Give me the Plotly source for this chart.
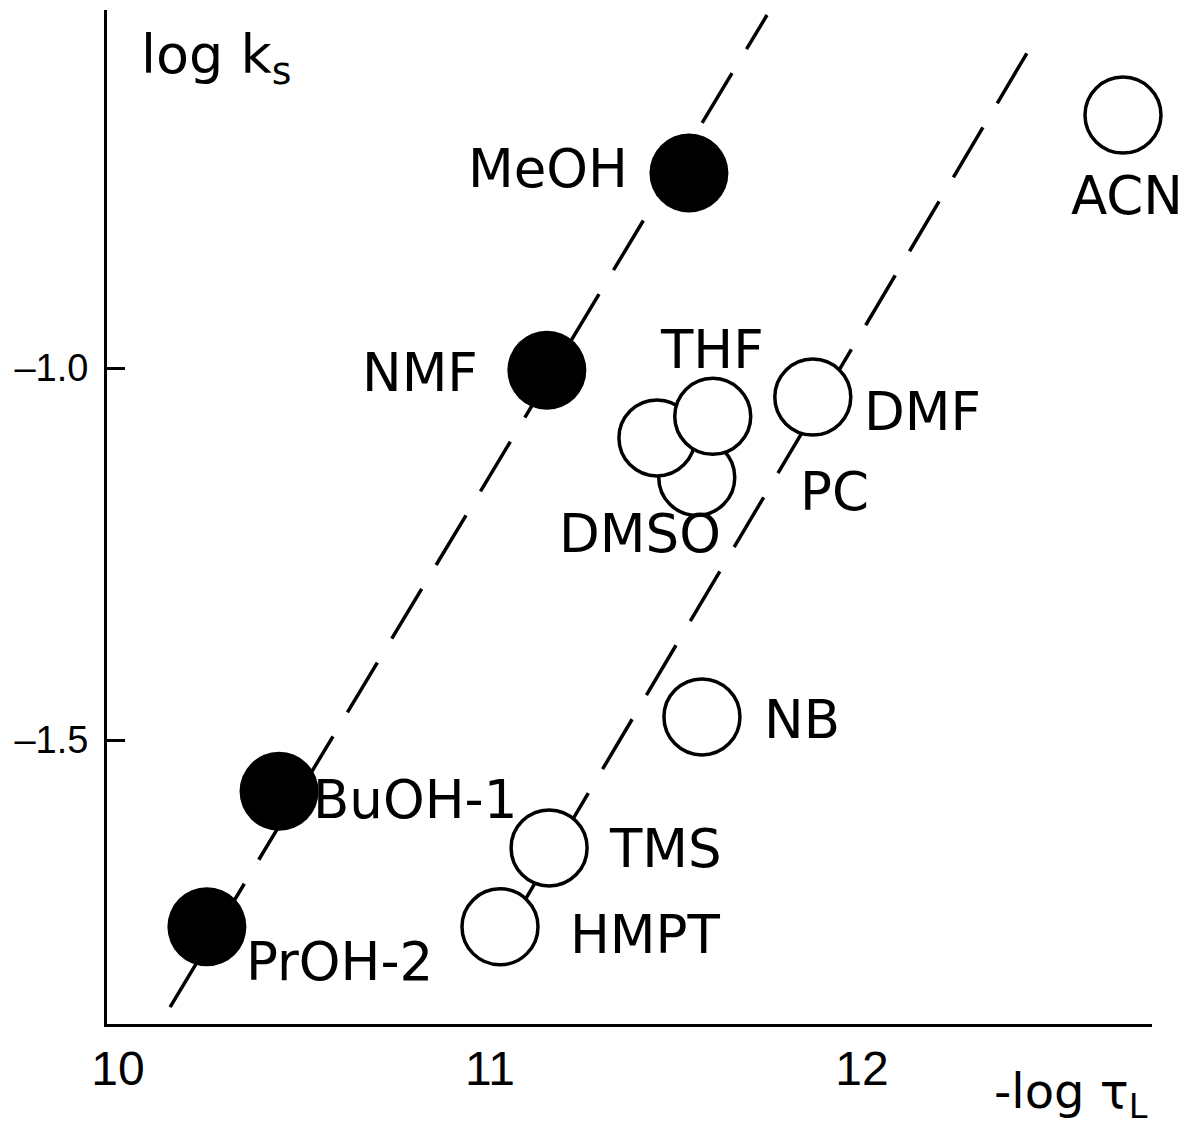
import plotly.graph_objects as go

# ---- data ----
filled_names = ["MeOH", "NMF", "BuOH-1", "PrOH-2"]
filled_x = [11.535, 11.153, 10.433, 10.239]
filled_y = [-0.738, -1.003, -1.569, -1.751]

open_names = ["ACN", "DMF", "NB", "TMS", "HMPT", "DMSO", "PC", "THF"]
open_x = [12.702, 11.868, 11.570, 11.159, 11.027, 11.556, 11.449, 11.599]
open_y = [-0.660, -1.039, -1.469, -1.645, -1.751, -1.147, -1.094, -1.065]

line1_x = [10.140, 11.745]
line1_y = [-1.859, -0.5255]
line2_x = [11.067, 12.444]
line2_y = [-1.738, -0.5766]

xtick_vals = [10, 11, 12]
xtick_text = ["10", "11", "12"]
xtick_marks = [11, 12]
ytick_vals = [-1.0, -1.5]
ytick_text = ["\u20131.0", "\u20131.5"]

# ---- label offsets (pixels, layout only) ----
label_offsets = {
    "MeOH": (-141, 5), "NMF": (-127, -2), "BuOH-1": (136, -8), "PrOH-2": (133, -35),
    "ACN": (4, -80), "THF": (-1, 67), "DMF": (110, -14), "PC": (178, -54),
    "DMSO": (-57, -56), "NB": (100, -3), "TMS": (116, -1), "HMPT": (146, -8),
}

FONT = "DejaVu Sans"
TICKFONT = "Liberation Sans"

fig = go.Figure()

dash = "58px,28px"
for lx, ly in [(line1_x, line1_y), (line2_x, line2_y)]:
    fig.add_trace(go.Scatter(x=lx, y=ly, mode="lines", cliponaxis=False,
                             line=dict(color="black", width=3.5, dash=dash),
                             hoverinfo="skip"))

fig.add_trace(go.Scatter(x=open_x, y=open_y, mode="markers", cliponaxis=False,
                         marker=dict(size=76, color="white", symbol="circle",
                                     line=dict(color="black", width=3.5)),
                         hoverinfo="skip"))
fig.add_trace(go.Scatter(x=filled_x, y=filled_y, mode="markers", cliponaxis=False,
                         marker=dict(size=79, color="black", symbol="circle",
                                     line=dict(color="black", width=0)),
                         hoverinfo="skip"))

annotations = []
for names, xs, ys in [(filled_names, filled_x, filled_y), (open_names, open_x, open_y)]:
    for n, x, y in zip(names, xs, ys):
        dx, dy = label_offsets[n]
        annotations.append(dict(x=x, y=y, xref="x", yref="y", text=n, showarrow=False,
                                xanchor="center", yanchor="middle", xshift=dx, yshift=dy,
                                font=dict(family=FONT, size=53, color="black")))

annotations.append(dict(x=0.031, y=0.953, xref="paper", yref="paper",
                        text="log k<sub>s</sub>", showarrow=False,
                        xanchor="left", yanchor="middle",
                        font=dict(family=FONT, size=54, color="black")))
annotations.append(dict(x=0.998, y=-0.07, xref="paper", yref="paper",
                        text="-log \u03c4<sub>L</sub>", showarrow=False,
                        xanchor="right", yanchor="middle",
                        font=dict(family=FONT, size=48, color="black")))

fig.update_layout(
    width=1192, height=1121,
    margin=dict(l=99, r=48, t=2, b=105, autoexpand=False),
    paper_bgcolor="white", plot_bgcolor="white",
    showlegend=False, hovermode=False,
    annotations=annotations,
    xaxis=dict(range=[9.9704, 12.78], showgrid=False, zeroline=False, automargin=False,
               showline=True, linecolor="black", linewidth=3,
               tickmode="array", tickvals=xtick_vals, ticktext=xtick_text,
               ticks="", ticklabelstandoff=0,
               tickfont=dict(family=TICKFONT, size=48, color="black")),
    xaxis2=dict(range=[9.9704, 12.78], overlaying="x", anchor="y", side="bottom",
                showgrid=False, zeroline=False, showline=False, automargin=False,
                tickmode="array", tickvals=xtick_marks, ticks="inside",
                ticklen=16, tickwidth=3, tickcolor="black", showticklabels=False),
    yaxis=dict(range=[-1.8817, -0.5188], showgrid=False, zeroline=False, automargin=False,
               showline=True, linecolor="black", linewidth=3,
               tickmode="array", tickvals=ytick_vals, ticktext=ytick_text,
               ticks="inside", ticklen=18, tickwidth=3, tickcolor="black",
               ticklabelstandoff=8,
               tickfont=dict(family=TICKFONT, size=38, color="black")),
)

fig.write_html("out.html")
